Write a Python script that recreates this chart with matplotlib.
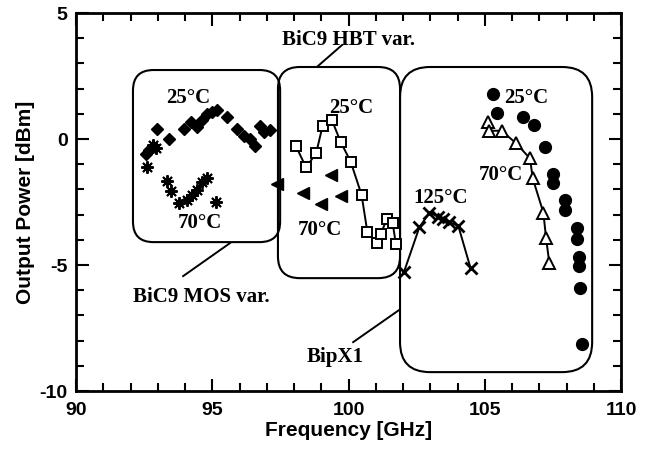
import matplotlib
matplotlib.use("Agg")
import matplotlib.pyplot as plt
from matplotlib.patches import FancyBboxPatch
from matplotlib.ticker import MultipleLocator

# BiC9 MOS varactor
mos25_f = [92.57, 92.69, 92.84, 92.98, 93.42, 93.96, 94.21, 94.43, 94.61, 94.82, 94.98, 95.16,
           95.55, 95.90, 96.17, 96.39, 96.57, 96.75, 96.90, 97.12]
mos25_p = [-0.60, -0.44, -0.33, 0.40, -0.01, 0.38, 0.69, 0.49, 0.75, 0.99, 1.08, 1.15,
           0.86, 0.38, 0.12, -0.01, -0.28, 0.52, 0.29, 0.36]
mos70_f = [92.81, 92.94, 92.59, 93.33, 93.47, 93.79, 94.06, 94.24, 94.43, 94.61, 94.82, 95.14]
mos70_p = [-0.24, -0.37, -1.12, -1.65, -2.05, -2.53, -2.42, -2.22, -2.02, -1.69, -1.56, -2.49]

# BiC9 HBT varactor
hbt25_f = [98.07, 98.44, 98.81, 99.05, 99.39, 99.71, 100.08, 100.48, 100.69, 101.03, 101.18,
           101.40, 101.62, 101.74]
hbt25_p = [-0.28, -1.12, -0.57, 0.53, 0.75, -0.11, -0.90, -2.22, -3.68, -4.14, -3.77,
           -3.19, -3.35, -4.17]
hbt70_f = [97.36, 98.34, 98.98, 99.35, 99.71]
hbt70_p = [-1.79, -2.16, -2.58, -1.43, -2.26]

# BipX1
bip125_f = [102.04, 102.60, 102.97, 103.30, 103.48, 103.67, 104.03, 104.48]
bip125_p = [-5.26, -3.50, -2.92, -3.08, -3.19, -3.28, -3.45, -5.13]
bip70_f = [105.13, 105.17, 105.62, 106.15, 106.66, 106.76, 107.15, 107.25, 107.37]
bip70_p = [0.69, 0.33, 0.33, -0.17, -0.77, -1.56, -2.92, -3.94, -4.93]
bip25_f = [105.29, 105.44, 106.42, 106.81, 107.21, 107.49, 107.49, 107.94, 107.94, 108.37,
           108.39, 108.47, 108.47, 108.50, 108.56]
bip25_p = [1.79, 1.04, 0.88, 0.56, -0.30, -1.39, -1.76, -2.42, -2.82, -3.54,
           -3.98, -4.70, -5.04, -5.92, -8.13]

x_ticks = [90, 95, 100, 105, 110]
y_ticks = [-10, -5, 0, 5]

fig = plt.figure(figsize=(6.52, 4.51), dpi=100)
ax = fig.add_axes([0.1166, 0.133, 0.9525 - 0.1166, 0.971 - 0.133])

sans = {'family': 'Liberation Sans', 'weight': 'bold'}
serif = {'family': 'Liberation Serif', 'weight': 'bold', 'size': 15}

# boxes
boxes = [(92.09, -4.09, 97.49, 2.74, 0.75),
         (97.41, -5.52, 101.89, 2.86, 0.8),
         (101.89, -9.25, 108.94, 2.86, 1.1)]
for x0, y0, x1, y1, r in boxes:
    p = FancyBboxPatch((x0, y0), x1 - x0, y1 - y0,
                       boxstyle=f"round,pad=0,rounding_size={r}",
                       mutation_aspect=1.08, fc='none', ec='black', lw=1.5, zorder=1)
    ax.add_patch(p)

# data
ax.plot(mos25_f, mos25_p, ls='none', marker='D', ms=6.5, color='black', zorder=3)
ax.plot(mos70_f, mos70_p, ls='none', marker=(8, 2, 0), ms=9, mew=1.4, color='black', zorder=3)
ax.plot(hbt25_f, hbt25_p, ls='-', lw=1.4, marker='s', ms=7.5, mfc='white', mec='black',
        mew=1.4, color='black', zorder=3)
ax.plot(hbt70_f, hbt70_p, ls='none', marker='<', ms=9, color='black', zorder=3)
ax.plot(bip125_f, bip125_p, ls='-', lw=1.4, marker='x', ms=8, mew=2, color='black', zorder=3)
ax.plot(bip70_f, bip70_p, ls='-', lw=1.4, marker='^', ms=8, mfc='white', mec='black',
        mew=1.4, color='black', zorder=3)
ax.plot(bip25_f, bip25_p, ls='none', marker='o', ms=8.5, color='black', zorder=3)

# leader lines
ax.plot([99.76, 98.88], [3.73, 2.90], color='black', lw=1.4)
ax.plot([93.93, 95.65], [-5.44, -4.13], color='black', lw=1.4)
ax.plot([100.17, 101.85], [-8.06, -6.79], color='black', lw=1.4)

# labels
ax.text(97.56, 3.93, 'BiC9 HBT var.', ha='left', va='center', **serif)
ax.text(92.09, -6.27, 'BiC9 MOS var.', ha='left', va='center', **serif)
ax.text(98.48, -8.65, 'BipX1', ha='left', va='center', **serif)
ax.text(94.11, 1.62, '25°C', ha='center', va='center', **serif)
ax.text(94.55, -3.33, '70°C', ha='center', va='center', **serif)
ax.text(100.09, 1.22, '25°C', ha='center', va='center', **serif)
ax.text(98.95, -3.61, '70°C', ha='center', va='center', **serif)
ax.text(103.39, -2.34, '125°C', ha='center', va='center', **serif)
ax.text(106.51, 1.62, '25°C', ha='center', va='center', **serif)
ax.text(105.60, -1.43, '70°C', ha='center', va='center', **serif)

ax.set_xlim(90, 110)
ax.set_ylim(-10, 5)
ax.set_xticks(x_ticks)
ax.set_yticks(y_ticks)
ax.set_xticklabels([str(v) for v in x_ticks])
ax.set_yticklabels([str(v) for v in y_ticks])
ax.xaxis.set_minor_locator(MultipleLocator(1))
ax.yaxis.set_minor_locator(MultipleLocator(1))
ax.tick_params(which='both', direction='in', top=True, right=True, width=1.5)
ax.tick_params(which='major', length=9)
ax.tick_params(which='minor', length=5.5)
ax.tick_params(axis='x', which='major', pad=8)
ax.tick_params(axis='y', which='major', pad=6)
for lab in ax.get_xticklabels() + ax.get_yticklabels():
    lab.set_fontfamily('Liberation Sans')
    lab.set_fontweight('bold')
    lab.set_fontsize(14)
for s in ax.spines.values():
    s.set_linewidth(2)

ax.set_xlabel('Frequency [GHz]', fontsize=15, labelpad=1, **sans)
ax.set_ylabel('Output Power [dBm]', fontsize=15, labelpad=3, **sans)

fig.savefig('out.png', dpi=100)
